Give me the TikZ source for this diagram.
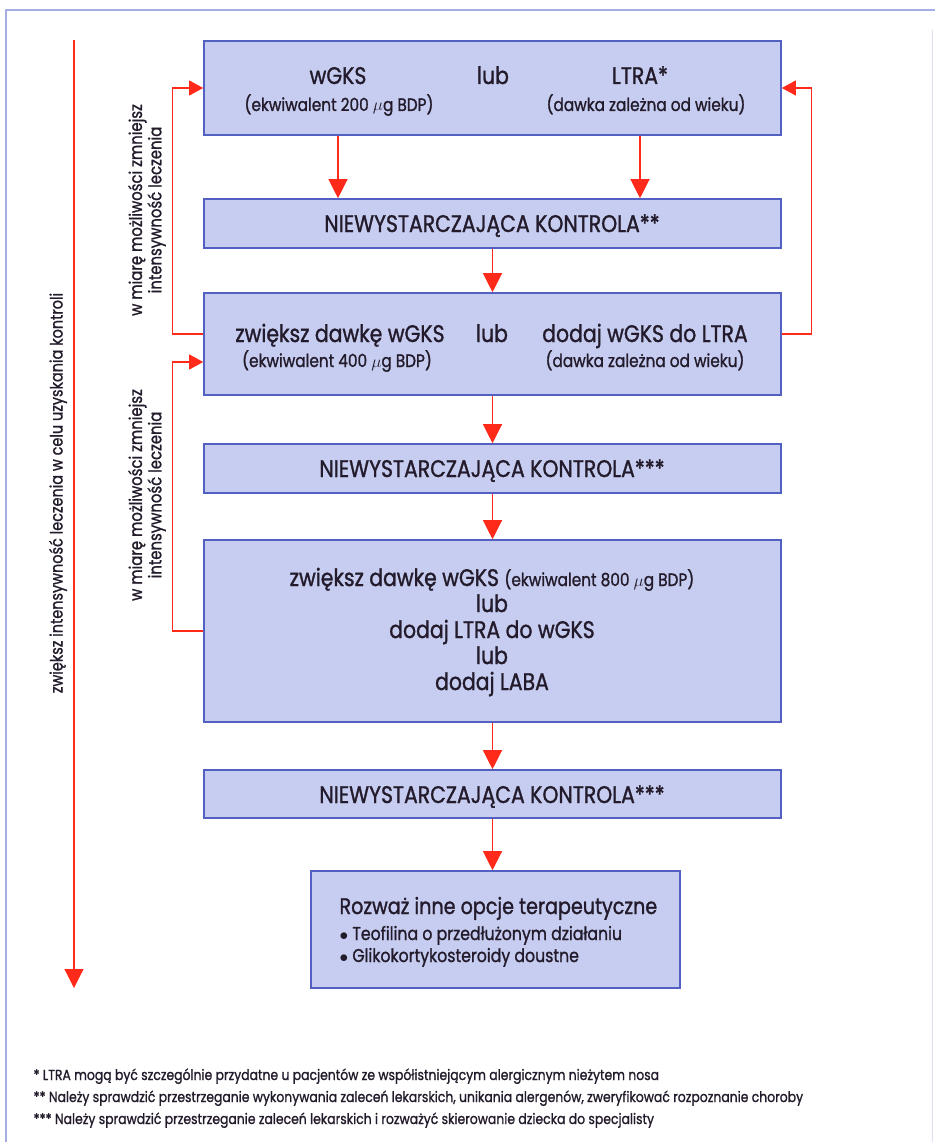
\documentclass[tikz,border=0pt]{standalone}
\usepackage{fontspec}
\setmainfont{Poppins}[FakeStretch=0.85, FakeBold=1.2]
\usetikzlibrary{arrows.meta}
\definecolor{rd}{HTML}{FF2A1A}
\definecolor{bx}{HTML}{C6CDF0}
\definecolor{bd}{HTML}{5260C2}
\definecolor{fr}{HTML}{A4AEE4}
\definecolor{tx}{HTML}{231B2B}

\tikzset{
  box/.style={draw=bd, line width=1.6pt, fill=bx, minimum width=577pt, inner sep=0pt},
  fwd/.style={rd, line width=1.2pt, -{Triangle[width=19pt,length=19pt]}},
  fback/.style={rd, line width=1.2pt, -{Triangle[width=15pt,length=14pt]}},
  big/.style={font=\fontsize{24}{26}\selectfont, text=tx},
  sml/.style={font=\fontsize{18}{20}\selectfont, text=tx},
  side/.style={font=\fontsize{17.5}{18}\selectfont, text=tx, rotate=90, align=center},
  note/.style={font=\fontsize{14.6}{16}\selectfont, text=tx, anchor=base west},
}

\begin{document}
\begin{tikzpicture}[x=1pt,y=-1pt]
\useasboundingbox (0,0) rectangle (934,1142);
\draw[fr, line width=1.2pt] (6,1150) -- (6,10) -- (940,10);
\draw[fr!40, line width=0.6pt] (932,30) -- (932,1142);

% boxes
\node[box, minimum height=94pt] (box1) at (492.5,88) {};
\node[box, minimum height=49pt] (box2) at (492.5,223.5) {};
\node[box, minimum height=102pt] (box3) at (492.5,344) {};
\node[box, minimum height=49pt] (box4) at (492.5,468.5) {};
\node[box, minimum height=182pt] (box5) at (492.5,631) {};
\node[box, minimum height=48pt] (box6) at (492.5,794) {};
\node[box, minimum width=369pt, minimum height=117pt] (box7) at (495.5,929.5) {};

% texts
\node[big, anchor=base] (wgks) at (338,84) {wGKS};
\node[big, anchor=base] (lub1) at (493,84) {lub};
\node[big, anchor=base] (ltra) at (640,84) {LTRA*};
\node[sml, anchor=base] at (339,111) {(ekwiwalent 200 $\mu$g BDP)};
\node[sml, anchor=base] at (646,111) {(dawka zależna od wieku)};

\node[big, anchor=base] at (492,232) {NIEWYSTARCZAJĄCA KONTROLA**};

\node[big, anchor=base] at (340,342) {zwiększ dawkę wGKS};
\node[big, anchor=base] at (492,342) {lub};
\node[big, anchor=base] at (645,342) {dodaj wGKS do LTRA};
\node[sml, anchor=base] at (337,367) {(ekwiwalent 400 $\mu$g BDP)};
\node[sml, anchor=base] at (645,367) {(dawka zależna od wieku)};

\node[big, anchor=base] at (492,477) {NIEWYSTARCZAJĄCA KONTROLA***};

\node[big, align=center] at (492,632) {zwiększ dawkę wGKS {\fontsize{18}{26}\selectfont(ekwiwalent 800 $\mu$g BDP)}\\
  lub\\ dodaj LTRA do wGKS\\ lub\\ dodaj LABA};

\node[big, anchor=base] at (492,803) {NIEWYSTARCZAJĄCA KONTROLA***};

\node[big, anchor=base west, font=\fontsize{22.5}{26}\selectfont] at (336,914) {Rozważ inne opcje terapeutyczne};
\node[sml, anchor=base west, font=\fontsize{18.5}{20}\selectfont] at (336,940) {$\bullet$ Teofilina o przedłużonym działaniu};
\node[sml, anchor=base west, font=\fontsize{18.5}{20}\selectfont] at (336,962) {$\bullet$ Glikokortykosteroidy doustne};

% arrows down
\draw[fwd] (box1.south -| wgks) -- (box2.north -| wgks);
\draw[fwd] (box1.south -| ltra) -- (box2.north -| ltra);
\draw[fwd] (box2) -- (box3);
\draw[fwd] (box3) -- (box4);
\draw[fwd] (box4) -- (box5);
\draw[fwd] (box5) -- (box6);
\draw[fwd] (box6.south) -- (box6.south |- box7.north);

% back arrows
\draw[fback] ([yshift=10pt]box3.west) -- ++(-31,0) |- (box1.west);
\draw[fback] ([yshift=10pt]box3.east) -- ++(30,0) |- (box1.east);
\draw[fback] (box5.west) -- ++(-31,0) |- ([yshift=-18pt]box3.west);

\node[side] (less1) at (147,210) {w miarę możliwości zmniejsz\\ intensywność leczenia};
\node[side] (less2) at (147,495) {w miarę możliwości zmniejsz\\ intensywność leczenia};

% main arrow
\coordinate (sTop) at (74,40);
\coordinate (sBot) at (74,988);
\draw[fwd] (sTop) -- (sBot);
\node[side, font=\fontsize{17}{20}\selectfont] (more) at (58,493) {zwiększ intensywność leczenia w celu uzyskania kontroli};

% footnotes
\node[note] at (30,1080) {* LTRA mogą być szczególnie przydatne u pacjentów ze współistniejącym alergicznym nieżytem nosa};
\node[note] at (30,1102) {** Należy sprawdzić przestrzeganie wykonywania zaleceń lekarskich, unikania alergenów, zweryfikować rozpoznanie choroby};
\node[note] at (30,1124) {*** Należy sprawdzić przestrzeganie zaleceń lekarskich i rozważyć skierowanie dziecka do specjalisty};
\end{tikzpicture}
\end{document}
